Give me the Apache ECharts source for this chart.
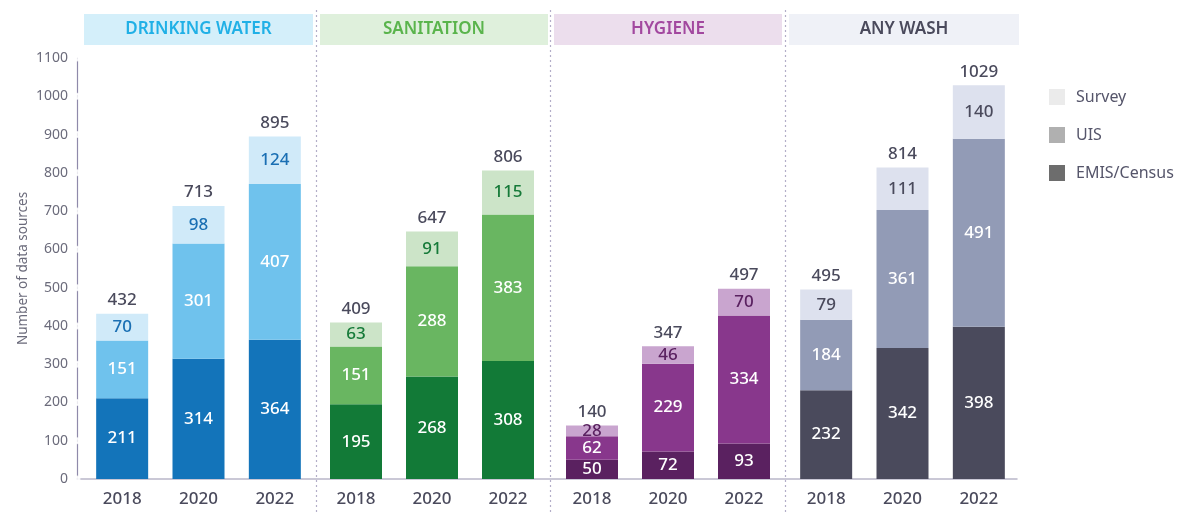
<!DOCTYPE html>
<html>
<head>
<meta charset="utf-8">
<script src="https://cdn.jsdelivr.net/npm/echarts@6/dist/echarts.min.js"></script>
<style>
  html, body { margin: 0; padding: 0; background: #fff; }
  #chart { width: 1188px; height: 512px; }
</style>
</head>
<body>
<div id="chart"></div>
<script>
// Data sources by WASH domain and year
const years = ['2018', '2020', '2022'];
const groups = ['DRINKING WATER', 'SANITATION', 'HYGIENE', 'ANY WASH'];
const emisCensus = [[211, 314, 364], [195, 268, 308], [50, 72, 93], [232, 342, 398]];
const uisValues = [[151, 301, 407], [151, 288, 383], [62, 229, 334], [184, 361, 491]];
const surveyValues = [[70, 98, 124], [63, 91, 115], [28, 46, 70], [79, 111, 140]];
const yTicks = [0, 100, 200, 300, 400, 500, 600, 700, 800, 900, 1000, 1100];

const FONT = '"Noto Sans", sans-serif';
const TEXT = '#4a4a5c';
const AXIS = '#8f8aaa';

// Palette per domain: [EMIS/Census, UIS, Survey, survey label, header bg, header text]
const palettes = [
  ['#1374ba', '#6fc2ed', '#d0eaf9', '#1a6fb3', '#d4effa', '#20b0e6'],
  ['#127a37', '#69b661', '#cce4c8', '#167a39', '#dff0dc', '#5ab44c'],
  ['#5a2160', '#88378c', '#c9a5cf', '#5a2160', '#ecdeed', '#a2489f'],
  ['#4a4a5c', '#929bb6', '#dde1ee', '#4a4a5c', '#eff1f7', '#4a4a5c']
];

// Plot-area placement of each domain panel
const panels = [
  { left: 84, width: 229, head: [84, 229] },
  { left: 318, width: 228, head: [320, 228] },
  { left: 554, width: 228, head: [554, 228] },
  { left: 788, width: 229, head: [789, 230] }
];
const separators = [316.5, 550.5, 785.5];

const TOP = 58, BOTTOM = 33;

const grids = [{ left: 77, right: 1188 - 1017, top: TOP, bottom: BOTTOM }];
const xAxes = [{
  gridIndex: 0, type: 'value', min: 0, max: 1,
  axisLine: { show: true, lineStyle: { color: '#b9b6c9', width: 1.5 } },
  axisTick: { show: false }, axisLabel: { show: false }, splitLine: { show: false }
}];
const yAxes = [{
  gridIndex: 0, type: 'value', min: 0, max: 1100, interval: 100,
  name: 'Number of data sources', nameLocation: 'middle', nameGap: 47, nameRotate: 90,
  nameMoveOverlap: false,
  nameTextStyle: { color: '#6b6b7b', fontSize: 13.5, fontFamily: FONT },
  axisLine: { show: true, lineStyle: { color: AXIS, width: 1.2 } },
  axisTick: { show: false },
  axisLabel: {
    color: '#6b6b7b', fontSize: 14, fontFamily: FONT, margin: 9,
    formatter: (v) => String(v)
  },
  splitLine: { show: false }
}];

const series = [{
  type: 'scatter', xAxisIndex: 0, yAxisIndex: 0, silent: true, z: 10,
  symbol: 'emptyCircle', symbolSize: 5, clip: false,
  itemStyle: { color: '#fff', borderColor: AXIS, borderWidth: 1 },
  data: yTicks.map(v => [0, v])
}];

const insideLabel = (color) => ({
  show: true, position: 'inside', color: color,
  fontSize: 17, fontWeight: 500, fontFamily: FONT
});

groups.forEach((g, i) => {
  const p = palettes[i];
  const idx = i + 1;
  grids.push({ left: panels[i].left, width: panels[i].width, top: TOP, bottom: BOTTOM });
  xAxes.push({
    gridIndex: idx, type: 'category', data: years,
    axisLine: { show: false }, axisTick: { show: false },
    axisLabel: { color: TEXT, fontSize: 17, fontWeight: 500, fontFamily: FONT, margin: 12 }
  });
  yAxes.push({ gridIndex: idx, type: 'value', min: 0, max: 1100, show: false, splitLine: { show: false } });

  const stack = 's' + i;
  const base = { type: 'bar', stack: stack, xAxisIndex: idx, yAxisIndex: idx, barWidth: 52 };
  series.push(Object.assign({}, base, {
    name: 'EMIS/Census', data: emisCensus[i],
    itemStyle: { color: p[0] }, label: insideLabel('#ffffff')
  }));
  series.push(Object.assign({}, base, {
    name: 'UIS', data: uisValues[i],
    itemStyle: { color: p[1] }, label: insideLabel('#ffffff')
  }));
  series.push(Object.assign({}, base, {
    name: 'Survey', data: surveyValues[i],
    itemStyle: { color: p[2] }, label: insideLabel(p[3])
  }));
  const totals = years.map((_, k) => emisCensus[i][k] + uisValues[i][k] + surveyValues[i][k]);
  series.push(Object.assign({}, base, {
    name: 'total' + i, data: totals.map(() => 0), silent: true,
    itemStyle: { color: 'transparent' },
    label: {
      show: true, position: 'top', distance: 5, color: TEXT,
      fontSize: 17, fontWeight: 500, fontFamily: FONT,
      formatter: (d) => String(totals[d.dataIndex])
    }
  }));
});

// Domain header bands and dotted dividers
const graphic = [];
groups.forEach((g, i) => {
  const [x, w] = panels[i].head;
  graphic.push({
    type: 'rect', left: x, top: 14, shape: { width: w, height: 31 },
    style: { fill: palettes[i][4] }, silent: true
  });
  graphic.push({
    type: 'text', x: x + w / 2, y: 29.5,
    style: {
      text: g, fill: palettes[i][5], font: '600 17px ' + FONT,
      textAlign: 'center', textVerticalAlign: 'middle'
    }, silent: true
  });
});
separators.forEach(x => {
  graphic.push({
    type: 'line', shape: { x1: x, y1: 10, x2: x, y2: 512 },
    style: { stroke: '#b3aec8', lineWidth: 1.2, lineDash: [2, 3] }, silent: true
  });
});

const chart = echarts.init(document.getElementById('chart'), null, { renderer: 'canvas' });
chart.setOption({
  animation: false,
  backgroundColor: '#ffffff',
  textStyle: { fontFamily: FONT },
  grid: grids,
  xAxis: xAxes,
  yAxis: yAxes,
  series: series,
  graphic: graphic,
  legend: {
    orient: 'vertical', left: 1049, top: 89, padding: 0,
    itemWidth: 16, itemHeight: 16, itemGap: 22, icon: 'rect',
    textStyle: { color: '#55556a', fontSize: 16, fontFamily: FONT, padding: [0, 0, 0, 6] },
    data: [
      { name: 'Survey', itemStyle: { color: '#ebebeb' } },
      { name: 'UIS', itemStyle: { color: '#b0b0b0' } },
      { name: 'EMIS/Census', itemStyle: { color: '#6d6d6d' } }
    ],
    selectedMode: false
  }
});
</script>
</body>
</html>
